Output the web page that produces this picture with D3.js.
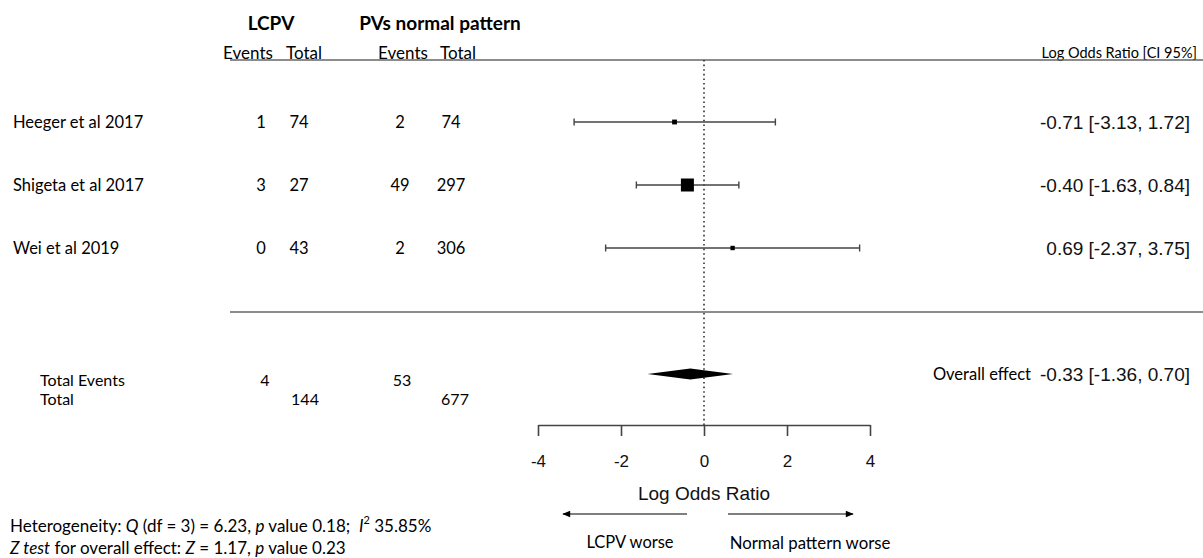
<!DOCTYPE html>
<html>
<head>
<meta charset="utf-8">
<script src="https://cdn.jsdelivr.net/npm/d3@7"></script>
<style>
  body { margin: 0; background: #fff; }
  svg text { white-space: pre; }
</style>
</head>
<body>
<svg id="chart" width="1203" height="558"></svg>
<script>
// study data
var studies = ["Heeger et al 2017", "Shigeta et al 2017", "Wei et al 2019"];
var lcpvEvents = [1, 3, 0];
var lcpvTotal = [74, 27, 43];
var normalEvents = [2, 49, 2];
var normalTotal = [74, 297, 306];
var logOR = [-0.71, -0.40, 0.69];
var ciLow = [-3.13, -1.63, -2.37];
var ciHigh = [1.72, 0.84, 3.75];
var weights = [11, 80, 9];

// pooled
var overall = { est: -0.33, lo: -1.36, hi: 0.70 };
var totals = { lcpvEvents: 4, lcpvTotal: 144, normalEvents: 53, normalTotal: 677 };
var ticks = [-4, -2, 0, 2, 4];

var calibri = "Lato, 'Open Sans', sans-serif";
var arial = "'Liberation Sans', Arial, sans-serif";

var svg = d3.select("#chart");

var x = d3.scaleLinear().domain([-4, 4]).range([538, 870]);
var y = d3.scalePoint().domain(studies).range([122, 248]);
var size = d3.scaleSqrt().domain([0, 80]).range([0, 13]);

var yHead = 60, ySep = 312, yAxis = 425, yOverall = 374;
var cols = [261, 299, 400, 451];

// plain hyphen for negatives, like the original
var locale = d3.formatLocale({ decimal: ".", thousands: ",", grouping: [3], currency: ["", ""], minus: "-" });
var fmt = locale.format(".2f");

function ci(e, lo, hi) { return fmt(e) + " [" + fmt(lo) + ", " + fmt(hi) + "]"; }

// header
svg.append("text").attr("x", 271).attr("y", 22).attr("text-anchor", "middle")
    .attr("dominant-baseline", "central")
    .style("font", "bold 19px " + calibri).text("LCPV");
svg.append("text").attr("x", 440).attr("y", 22).attr("text-anchor", "middle")
    .attr("dominant-baseline", "central")
    .style("font", "bold 19px " + calibri).text("PVs normal pattern");

[["Events", 248], ["Total", 304], ["Events", 403], ["Total", 458]].forEach(function(d) {
    svg.append("text").attr("x", d[1]).attr("y", 52).attr("text-anchor", "middle")
        .attr("dominant-baseline", "central")
        .style("font", "17px " + calibri).text(d[0]);
});
svg.append("text").attr("x", 1197).attr("y", 52).attr("text-anchor", "end")
    .attr("dominant-baseline", "central")
    .style("font", "14.5px " + calibri).text("Log Odds Ratio [CI 95%]");

// rules
[yHead, ySep].forEach(function(v) {
    svg.append("line").attr("x1", 230).attr("x2", 1203).attr("y1", v).attr("y2", v)
        .attr("stroke", "#666").attr("stroke-width", 1.6);
});

// null line
svg.append("line").attr("x1", x(0)).attr("x2", x(0)).attr("y1", yHead).attr("y2", yAxis)
    .attr("stroke", "#333").attr("stroke-width", 1.6).attr("stroke-dasharray", "1.6,3");

// study rows
var rows = svg.selectAll("g.row").data(studies).enter().append("g").attr("class", "row");

rows.append("text").attr("x", 13).attr("y", function(d) { return y(d); })
    .attr("dominant-baseline", "central")
    .style("font", "16.5px " + calibri).text(function(d) { return d; });

[lcpvEvents, lcpvTotal, normalEvents, normalTotal].forEach(function(arr, j) {
    rows.append("text").attr("x", cols[j]).attr("y", function(d) { return y(d); })
        .attr("text-anchor", "middle").attr("dominant-baseline", "central")
        .style("font", "16.5px " + calibri).text(function(d, i) { return arr[i]; });
});

rows.append("line")
    .attr("x1", function(d, i) { return x(ciLow[i]); })
    .attr("x2", function(d, i) { return x(ciHigh[i]); })
    .attr("y1", function(d) { return y(d); }).attr("y2", function(d) { return y(d); })
    .attr("stroke", "#444").attr("stroke-width", 1.4);

[ciLow, ciHigh].forEach(function(arr) {
    rows.append("line")
        .attr("x1", function(d, i) { return x(arr[i]); })
        .attr("x2", function(d, i) { return x(arr[i]); })
        .attr("y1", function(d) { return y(d) - 3.5; }).attr("y2", function(d) { return y(d) + 3.5; })
        .attr("stroke", "#444").attr("stroke-width", 1.4);
});

rows.append("rect")
    .attr("x", function(d, i) { return x(logOR[i]) - size(weights[i]) / 2; })
    .attr("y", function(d, i) { return y(d) - size(weights[i]) / 2; })
    .attr("width", function(d, i) { return size(weights[i]); })
    .attr("height", function(d, i) { return size(weights[i]); })
    .attr("fill", "#000");

rows.append("text").attr("x", 1190).attr("y", function(d) { return y(d); })
    .attr("text-anchor", "end").attr("dominant-baseline", "central")
    .style("font", "19px " + arial).attr("fill", "#111")
    .text(function(d, i) { return ci(logOR[i], ciLow[i], ciHigh[i]); });

// totals
svg.append("text").attr("x", 40).attr("y", 379).attr("dominant-baseline", "central")
    .style("font", "16px " + calibri).text("Total Events");
svg.append("text").attr("x", 40).attr("y", 398).attr("dominant-baseline", "central")
    .style("font", "16px " + calibri).text("Total");
[[totals.lcpvEvents, 265, 379], [totals.normalEvents, 402, 379],
 [totals.lcpvTotal, 305, 398], [totals.normalTotal, 455, 398]].forEach(function(d) {
    svg.append("text").attr("x", d[1]).attr("y", d[2]).attr("text-anchor", "middle")
        .attr("dominant-baseline", "central")
        .style("font", "16px " + calibri).text(d[0]);
});

// overall diamond
svg.append("path")
    .attr("d", "M" + x(overall.lo) + "," + yOverall +
               "L" + x(overall.est) + "," + (yOverall - 5.5) +
               "L" + x(overall.hi) + "," + yOverall +
               "L" + x(overall.est) + "," + (yOverall + 5.5) + "Z")
    .attr("fill", "#000");

svg.append("text").attr("x", 1031).attr("y", yOverall).attr("text-anchor", "end")
    .attr("dominant-baseline", "central")
    .style("font", "16.5px " + calibri).text("Overall effect");
svg.append("text").attr("x", 1190).attr("y", yOverall).attr("text-anchor", "end")
    .attr("dominant-baseline", "central")
    .style("font", "19px " + arial).attr("fill", "#111")
    .text(ci(overall.est, overall.lo, overall.hi));

// axis
var axis = svg.append("g").attr("transform", "translate(0," + yAxis + ")")
    .call(d3.axisBottom(x).tickValues(ticks).tickSize(11).tickSizeOuter(0).tickPadding(19)
        .tickFormat(locale.format("d")));
axis.select(".domain").attr("stroke", "#444").attr("stroke-width", 1.6);
axis.selectAll(".tick line").attr("stroke", "#444").attr("stroke-width", 1.6);
axis.selectAll(".tick text").style("font", "17px " + arial).attr("fill", "#111");

svg.append("text").attr("x", x(0)).attr("y", 493).attr("text-anchor", "middle")
    .attr("dominant-baseline", "central")
    .style("font", "19px " + arial).attr("fill", "#111").text("Log Odds Ratio");

// direction arrows
svg.append("defs").append("marker").attr("id", "head")
    .attr("viewBox", "0 0 10 10").attr("refX", 9).attr("refY", 5)
    .attr("markerWidth", 9).attr("markerHeight", 8).attr("orient", "auto")
    .attr("markerUnits", "userSpaceOnUse")
    .append("path").attr("d", "M0,1L10,5L0,9Z").attr("fill", "#000");

svg.append("line").attr("x1", 687).attr("x2", 563).attr("y1", 514).attr("y2", 514)
    .attr("stroke", "#000").attr("stroke-width", 1.2).attr("marker-end", "url(#head)");
svg.append("line").attr("x1", 728).attr("x2", 853).attr("y1", 514).attr("y2", 514)
    .attr("stroke", "#000").attr("stroke-width", 1.2).attr("marker-end", "url(#head)");

svg.append("text").attr("x", 630).attr("y", 542).attr("text-anchor", "middle")
    .attr("dominant-baseline", "central")
    .style("font", "16.5px " + calibri).text("LCPV worse");
svg.append("text").attr("x", 810).attr("y", 542).attr("text-anchor", "middle")
    .attr("dominant-baseline", "central")
    .style("font", "16.8px " + calibri).text("Normal pattern worse");

// heterogeneity notes
var note1 = svg.append("text").attr("x", 10).attr("y", 525).attr("dominant-baseline", "central")
    .style("font", "17px " + calibri);
note1.append("tspan").text("Heterogeneity: ");
note1.append("tspan").style("font-style", "italic").text("Q");
note1.append("tspan").text(" (df = 3) = 6.23, ");
note1.append("tspan").style("font-style", "italic").text("p");
note1.append("tspan").text(" value 0.18;  ");
note1.append("tspan").style("font-style", "italic").text("I");
note1.append("tspan").attr("dy", -6).style("font-size", "11px").text("2");
note1.append("tspan").attr("dy", 6).text(" 35.85%");

var note2 = svg.append("text").attr("x", 10).attr("y", 547).attr("dominant-baseline", "central")
    .style("font", "17px " + calibri);
note2.append("tspan").style("font-style", "italic").text("Z test");
note2.append("tspan").text(" for overall effect: ");
note2.append("tspan").style("font-style", "italic").text("Z");
note2.append("tspan").text(" = 1.17, ");
note2.append("tspan").style("font-style", "italic").text("p");
note2.append("tspan").text(" value 0.23");
</script>
</body>
</html>
